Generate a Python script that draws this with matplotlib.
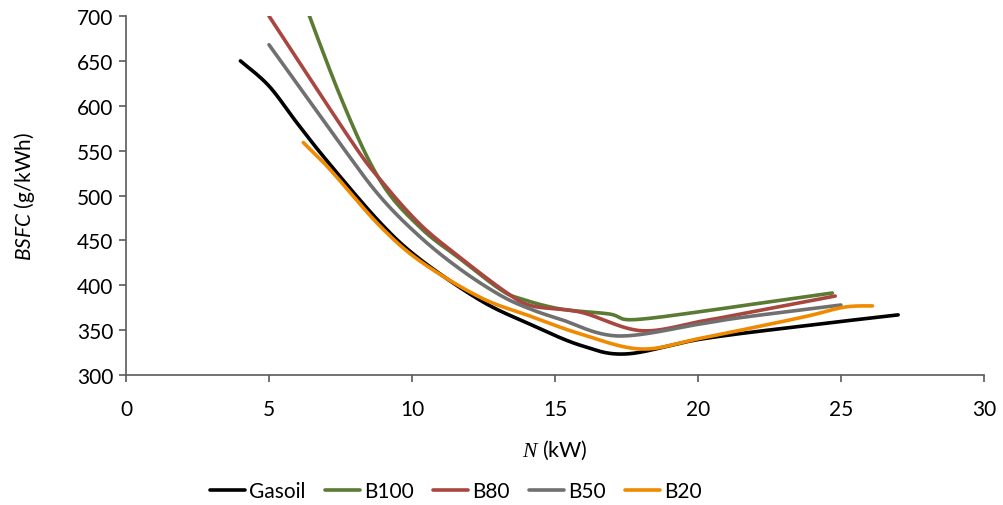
import numpy as np
import matplotlib
matplotlib.use("Agg")
import matplotlib.pyplot as plt

plt.rcParams["font.family"] = ["Lato", "DejaVu Sans"]
plt.rcParams["mathtext.fontset"] = "custom"
plt.rcParams["mathtext.it"] = "Liberation Serif:italic"
plt.rcParams["mathtext.sf"] = "Lato:italic"
plt.rcParams["mathtext.rm"] = "Lato"

# Brake specific fuel consumption vs. engine power
gasoil_n = [4.0, 5.0, 6.0, 7.07, 8.88, 10.28, 12.4, 14.1, 15.9, 17.5, 20.1, 23.5, 27.0]
gasoil_bsfc = [650, 622, 580, 537, 470, 429, 383, 357, 333, 323.5, 340, 354, 367]

b100_n = [5.6, 7.5, 8.9, 10.3, 11.7, 13.1, 13.8, 15.2, 16.9, 17.7, 20.1, 21.5, 24.7]
b100_bsfc = [770, 610, 516, 464, 429, 395, 385, 373.5, 368, 361.6, 370.6, 377, 391.4]

b80_n = [5.0, 7.83, 8.88, 10.28, 11.68, 13.3, 14.2, 15.9, 18.0, 20.1, 21.5, 24.8]
b80_bsfc = [700, 563, 518, 468, 431, 392, 377, 370, 349.4, 359.8, 368, 388]

b50_n = [5.0, 7.48, 8.88, 10.28, 11.68, 13.08, 14.1, 15.2, 17.2, 20.1, 21.5, 25.0]
b50_bsfc = [668, 558, 499, 454, 418, 389, 374, 362, 343.5, 357, 364, 378]

b20_n = [6.2, 6.9, 7.48, 8.88, 10.28, 12.38, 14.1, 15.9, 18.0, 20.1, 23.6, 25.1, 26.1]
b20_bsfc = [559, 537, 516.5, 466, 427, 386.6, 366, 345.7, 329, 341, 364, 375.5, 377]

labels = ["Gasoil", "B100", "B80", "B50", "B20"]
colors = ["#000000", "#5B7A34", "#A8463F", "#707070", "#F08A00"]

x_ticks = [0, 5, 10, 15, 20, 25, 30]
y_ticks = [300, 350, 400, 450, 500, 550, 600, 650, 700]


def smooth(xs, ys, steps=40):
    """Smoothed line through the points (Bezier with Catmull-Rom tangents)."""
    p = np.column_stack([xs, ys]).astype(float)
    n = len(p)
    out = [p[0]]
    t = np.linspace(0, 1, steps)[1:, None]
    for i in range(n - 1):
        p0 = p[i - 1] if i > 0 else p[i]
        p1, p2 = p[i], p[i + 1]
        p3 = p[i + 2] if i + 2 < n else p[i + 1]
        c1 = p1 + (p2 - p0) / 6.0
        c2 = p2 - (p3 - p1) / 6.0
        seg = ((1 - t) ** 3) * p1 + 3 * ((1 - t) ** 2) * t * c1 + 3 * (1 - t) * t ** 2 * c2 + t ** 3 * p2
        out.extend(seg)
    out = np.array(out)
    return out[:, 0], out[:, 1]


fig = plt.figure(figsize=(10.04, 5.06), dpi=100)
ax = fig.add_axes([0.1255, 0.2569, 0.8545, 0.7095])

series = [(gasoil_n, gasoil_bsfc), (b100_n, b100_bsfc), (b80_n, b80_bsfc),
          (b50_n, b50_bsfc), (b20_n, b20_bsfc)]
for (xs, ys), lab, col in zip(series, labels, colors):
    sx, sy = smooth(xs, ys)
    ax.plot(sx, sy, color=col, lw=2.6, label=lab, solid_capstyle="round")

ax.set_xlim(0, 30)
ax.set_ylim(300, 700)
ax.set_xticks(x_ticks)
ax.set_yticks(y_ticks)
ax.tick_params(axis="both", labelsize=15, color="#5A5A5A", length=5, width=1.2)
ax.tick_params(axis="x", pad=12)
ax.tick_params(axis="y", pad=4)
for s in ["top", "right"]:
    ax.spines[s].set_visible(False)
for s in ["left", "bottom"]:
    ax.spines[s].set_color("#5A5A5A")
    ax.spines[s].set_linewidth(1.2)

ax.set_xlabel(r"$N$ (kW)", fontsize=15.5)
ax.xaxis.set_label_coords(0.5, -0.176)
ax.set_ylabel(r"$\mathsf{BSFC}$ (g/kWh)", fontsize=15)
ax.yaxis.set_label_coords(-0.104, 0.5)

fig.legend(loc="center", bbox_to_anchor=(0.454, 0.028), ncol=5, frameon=False,
           fontsize=15, handlelength=1.7, handletextpad=0.2, columnspacing=0.9)

fig.savefig("out.png", dpi=100)
